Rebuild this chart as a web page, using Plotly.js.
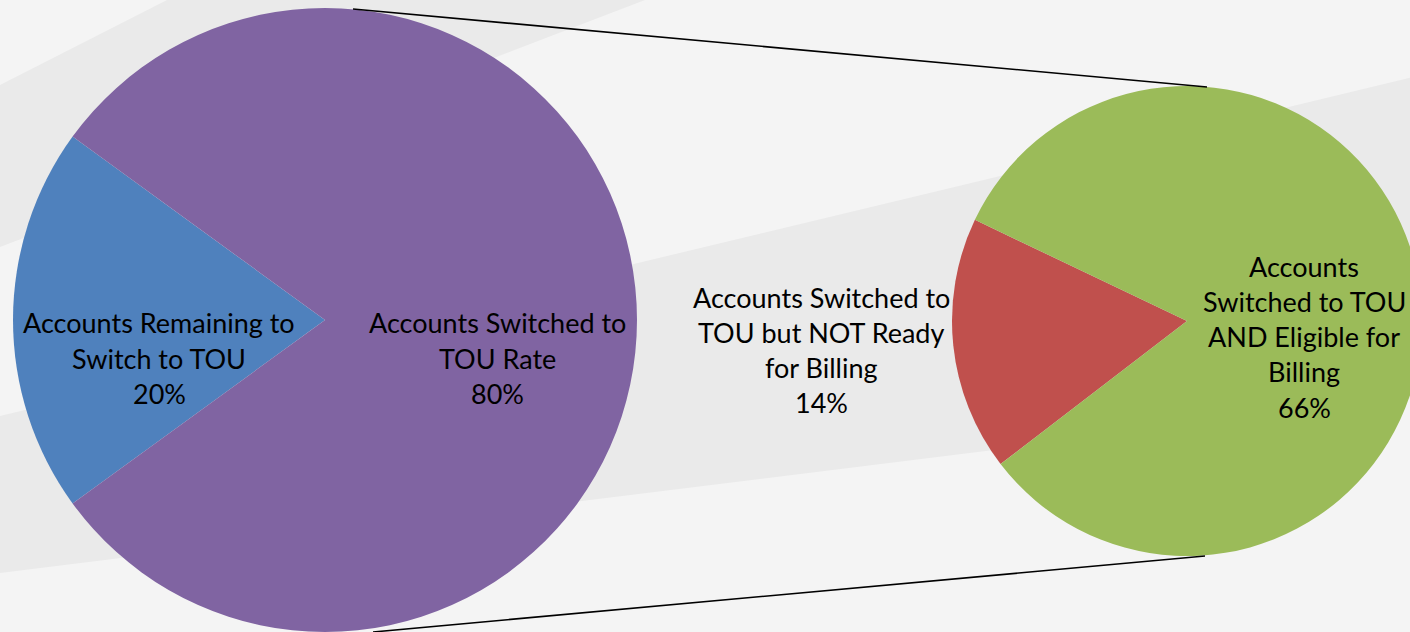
<!DOCTYPE html>
<html><head><meta charset="utf-8">
<script src="https://cdn.plot.ly/plotly-3.0.1.min.js"></script>
<style>
html,body{margin:0;padding:0;overflow:hidden;background:#f4f4f4}
#wrap{width:1410px;height:632px;overflow:hidden;position:relative}
#chart{width:1430px;height:632px}
</style></head>
<body><div id="wrap"><div id="chart"></div></div>
<script>
// ---- data ----
const mainLabels = ["Accounts Remaining to<br>Switch to TOU", "Accounts Switched to<br>TOU Rate"];
const mainValues = [20, 80];
const mainColors = ["#4F81BD", "#8064A2"];
const subLabels = ["Accounts Switched to<br>TOU but NOT Ready<br>for Billing", "Accounts<br>Switched to TOU<br>AND Eligible for<br>Billing"];
const subValues = [14, 66];
const subColors = ["#C0504D", "#9BBB59"];

// ---- layout helpers ----
const W = 1430, H = 632;
const X = px => px / W;
const Y = py => 1 - py / H;

const FONT = {family: "Lato, 'Open Sans', sans-serif", size: 27, color: "#000000"};
const LINE_GAP = 35.3;
// label anchor (center x, first line center y) for each slice: main pie then sub pie
const labelAnchors = [[159, 323], [497, 323], [821, 297], [1304, 266]];

const allLabels = mainLabels.concat(subLabels);
const allValues = mainValues.concat(subValues);
const total = mainValues.reduce((a, b) => a + b, 0);

const annotations = [];
allLabels.forEach((lab, i) => {
  const lines = lab.split("<br>").concat([Math.round(allValues[i] / total * 100) + "%"]);
  lines.forEach((ln, j) => {
    annotations.push({
      xref: "paper", yref: "paper",
      x: X(labelAnchors[i][0]), y: Y(labelAnchors[i][1] + j * LINE_GAP),
      xanchor: "center", yanchor: "middle",
      text: ln, showarrow: false, font: FONT
    });
  });
});

const bandColor = "#eaeaea";
const shapes = [
  {type: "path", xref: "paper", yref: "paper", layer: "below", line: {width: 0}, fillcolor: bandColor,
   path: `M ${X(0)} ${Y(85)} L ${X(167)} ${Y(0)} L ${X(645)} ${Y(0)} L ${X(0)} ${Y(247)} Z`},
  {type: "path", xref: "paper", yref: "paper", layer: "below", line: {width: 0}, fillcolor: bandColor,
   path: `M ${X(0)} ${Y(416)} L ${X(1430)} ${Y(73)} L ${X(1430)} ${Y(396)} L ${X(0)} ${Y(573)} Z`},
  {type: "line", xref: "paper", yref: "paper", layer: "above", line: {color: "#000", width: 1.6},
   x0: X(353), y0: Y(9), x1: X(1207), y1: Y(87)},
  {type: "line", xref: "paper", yref: "paper", layer: "above", line: {color: "#000", width: 1.6},
   x0: X(373), y0: Y(632), x1: X(1205), y1: Y(556)}
];

const traces = [
  {type: "pie", labels: mainLabels, values: mainValues, sort: false, direction: "counterclockwise",
   rotation: -126, textinfo: "none", hoverinfo: "skip",
   marker: {colors: mainColors, line: {width: 0}},
   domain: {x: [X(13), X(637)], y: [Y(632), Y(8)]}},
  {type: "pie", labels: subLabels, values: subValues, sort: false, direction: "counterclockwise",
   rotation: -127.5, textinfo: "none", hoverinfo: "skip",
   marker: {colors: subColors, line: {width: 0}},
   domain: {x: [X(952), X(1422)], y: [Y(556), Y(86)]}}
];

const layout = {
  width: W, height: H,
  margin: {l: 0, r: 0, t: 0, b: 0, pad: 0},
  paper_bgcolor: "#f4f4f4", plot_bgcolor: "rgba(0,0,0,0)",
  showlegend: false,
  shapes: shapes,
  annotations: annotations
};

Plotly.newPlot("chart", traces, layout, {displayModeBar: false, staticPlot: true});
</script>
</body></html>
